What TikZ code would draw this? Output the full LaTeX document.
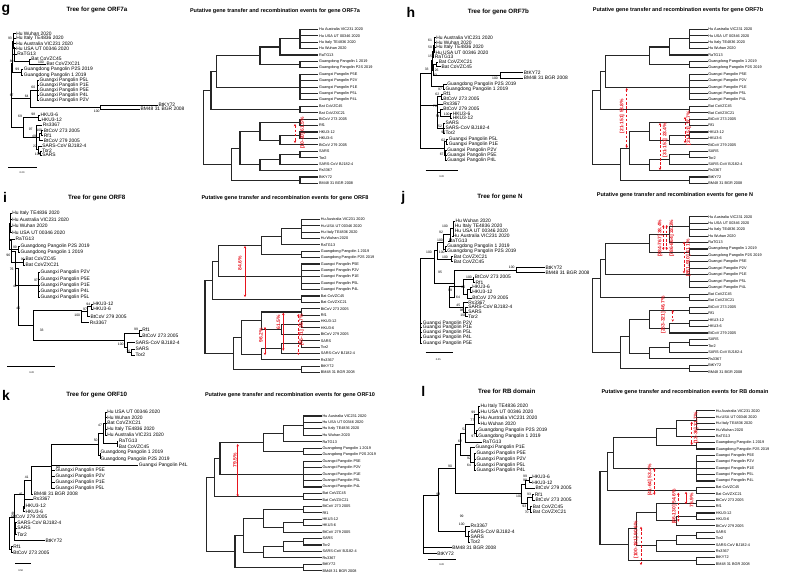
\documentclass[tikz,border=0pt]{standalone}
\usepackage{fontspec}
\setmainfont{Liberation Sans}
\usetikzlibrary{arrows.meta}
\definecolor{hgtred}{RGB}{232,20,30}
\tikzset{
    lbranch/.style={line width=0.65pt, black},
    cbranch/.style={line width=1.1pt, black!85},
    taxon/.style={anchor=west, font=\fontsize{3.8}{4}\selectfont, inner sep=0.6pt},
    ltaxon/.style={anchor=west, font=\fontsize{4.9}{5}\selectfont, inner sep=0.4pt},
    boot/.style={font=\fontsize{3.4}{4}\selectfont, inner sep=0pt},
    paneltag/.style={font=\fontsize{14}{14}\selectfont\bfseries, inner sep=0pt},
    treetitle/.style={font=\fontsize{6.2}{7}\selectfont\bfseries, inner sep=0pt},
    eventtitle/.style={font=\fontsize{5.5}{6}\selectfont\bfseries, inner sep=0pt},
    scalebar/.style={line width=0.6pt},
    scalelabel/.style={font=\fontsize{2.5}{3}\selectfont, inner sep=0pt},
    transfer/.style={hgtred, line width=0.9pt, {Stealth[length=2.4pt,width=2.6pt]}-{Stealth[length=2.4pt,width=2.6pt]}},
    recomb/.style={transfer, dash pattern=on 2.6pt off 1.6pt},
    eventlabel/.style={rotate=90, text=hgtred, font=\fontsize{5}{5}\selectfont\bfseries, inner sep=0.3pt},
}
% parent -> children, rectangular branches
\newcommand{\branchto}[3][lbranch]{\foreach \c in {#3}{\draw[#1] (#2) |- (\c);}}
% transfer event: style, name, x, y1, y2, label x, label y, text
\newcommand{\hgt}[8][transfer]{%
    \coordinate (#2a) at (#3,#4);
    \coordinate (#2b) at (#3,#5);
    \draw[#1] (#2a) -- (#2b);
    \node[eventlabel] (#2l) at (#6,#7) {#8};}
% common species cladogram: name, tip x, top y, leaf spacing
\newcommand{\eventtree}[4]{%
    \begin{scope}[shift={(#2,#3)}, y=-#4pt]
        \foreach \lbl [count=\k from 0] in {Hu Australia VIC231 2020, Hu USA UT 00346 2020,
            Hu Italy TE4836 2020, Hu Wuhan 2020, RaTG13, Guangdong Pangolin 1 2019,
            Guangdong Pangolin P2S 2019, Guangxi Pangolin P5E, Guangxi Pangolin P2V,
            Guangxi Pangolin P1E, Guangxi Pangolin P5L, Guangxi Pangolin P4L, Bat CoVZC45,
            Bat CoVZXC21, BtCoV 273 2005, Rf1, HKU3-12, HKU3-6, BtCoV 279 2005, SARS, Tor2,
            SARS-CoV BJ182-4, Rs3367, BtKY72, BM48 31 BGR 2008}
            \node[taxon] (#1\k) at (0,\k) {\lbl};
        \coordinate (#1hu) at (-18.3,1.5);
        \coordinate (#1hr) at (-38.3,2.75);
        \coordinate (#1gd) at (-18.3,5.5);
        \coordinate (#1hrg) at (-58.3,4.125);
        \coordinate (#1gx) at (-18.3,9);
        \coordinate (#1hrgx) at (-101.7,6.5625);
        \coordinate (#1zc) at (-18.3,12.5);
        \coordinate (#1up) at (-107.3,9.53);
        \coordinate (#1rf) at (-18.3,14.5);
        \coordinate (#1hk) at (-18.3,16.5);
        \coordinate (#1hks) at (-38.3,17.25);
        \coordinate (#1bat) at (-58.3,15.875);
        \coordinate (#1st) at (-18.3,19.5);
        \coordinate (#1stb) at (-38.3,20.25);
        \coordinate (#1sars) at (-58.3,21.125);
        \coordinate (#1sarb) at (-78.3,18.5);
        \coordinate (#1ky) at (-18.3,23.5);
        \coordinate (#1low) at (-86.7,21);
        \coordinate (#1root) at (-115,15.27);
        \branchto[cbranch]{#1hu}{#10,#11,#12,#13}
        \branchto[cbranch]{#1hr}{#1hu,#14}
        \branchto[cbranch]{#1gd}{#15,#16}
        \branchto[cbranch]{#1hrg}{#1hr,#1gd}
        \branchto[cbranch]{#1gx}{#17,#18,#19,#110,#111}
        \branchto[cbranch]{#1hrgx}{#1hrg,#1gx}
        \branchto[cbranch]{#1zc}{#112,#113}
        \branchto[cbranch]{#1up}{#1hrgx,#1zc}
        \branchto[cbranch]{#1rf}{#114,#115}
        \branchto[cbranch]{#1hk}{#116,#117}
        \branchto[cbranch]{#1hks}{#1hk,#118}
        \branchto[cbranch]{#1bat}{#1rf,#1hks}
        \branchto[cbranch]{#1st}{#119,#120}
        \branchto[cbranch]{#1stb}{#1st,#121}
        \branchto[cbranch]{#1sars}{#1stb,#122}
        \branchto[cbranch]{#1sarb}{#1bat,#1sars}
        \branchto[cbranch]{#1ky}{#123,#124}
        \branchto[cbranch]{#1low}{#1sarb,#1ky}
        \branchto[cbranch]{#1root}{#1up,#1low}
    \end{scope}}

\begin{document}
\begin{tikzpicture}[x=1pt, y=-1pt]
\useasboundingbox (0,0) rectangle (787,574);
\fill[white] (0,0) rectangle (787,574);

% ================= g : ORF7a =================
\node[paneltag] (gtag) at (6,10) {g};
\node[treetitle] (gt1) at (97,10) {Tree for gene ORF7a};
\node[eventtitle] (gt2) at (275,11) {Putative gene transfer and recombination events for gene ORF7a};
\foreach \x/\y/\lbl [count=\k] in {15.7/33.3/Hu Wuhan 2020, 15.7/38.3/Hu Italy TE4836 2020,
    15.7/43.7/Hu Australia VIC231 2020, 15.7/48.7/Hu USA UT 00346 2020, 16.7/54/RaTG13,
    30.7/59.3/Bat CoVZC45, 46/64.3/Bat CoVZXC21, 23.3/69.7/Guangdong Pangolin P2S 2019,
    23.3/75/Guangdong Pangolin 1 2019, 39/80/Guangxi Pangolin P5L, 39/85/Guangxi Pangolin P1E,
    39/90/Guangxi Pangolin P5E, 39/95/Guangxi Pangolin P4L, 39/100/Guangxi Pangolin P2V,
    158/105.3/BtKY72, 140/109.3/BM48 31 BGR 2008, 40/115/HKU3-6, 41/120/HKU3-12,
    42.3/125.3/Rs3367, 43.3/130.7/BtCoV 273 2005, 43.3/135.7/Rf1, 43.3/140.7/BtCoV 279 2005,
    41.7/146/SARS-CoV BJ182-4, 41.7/151/Tor2, 41.7/155/SARS}
    \node[ltaxon] (gl\k) at (\x,\y) {\lbl};
\coordinate (ghu) at (13.5,41);
\coordinate (ghr) at (12.8,47.5);
\coordinate (gzc) at (29.3,61.8);
\coordinate (gup) at (14.3,54.6);
\coordinate (ggd) at (21.7,72.3);
\coordinate (gbr) at (12.3,63.5);
\coordinate (ggx) at (37.3,90);
\coordinate (gky) at (100,107.3);
\coordinate (gpk) at (30,98.7);
\coordinate (gtop) at (11.5,81);
\coordinate (ghk) at (38.3,117.5);
\coordinate (grf) at (41.5,133.2);
\coordinate (g79) at (39.5,137);
\coordinate (gst) at (40,153);
\coordinate (gsb) at (38.5,149.5);
\coordinate (gsl) at (36.5,137.4);
\coordinate (gbot) at (23,127.5);
\coordinate (groot) at (11,104.3);
\branchto{ghu}{gl1,gl2,gl3,gl4}
\branchto{ghr}{ghu,gl5}
\branchto{gzc}{gl6,gl7}
\branchto{gup}{ghr,gzc}
\branchto{ggd}{gl8,gl9}
\branchto{gbr}{gup,ggd}
\branchto{ggx}{gl10,gl11,gl12,gl13,gl14}
\branchto{gky}{gl15,gl16}
\branchto{gpk}{ggx,gky}
\branchto{gtop}{gbr,gpk}
\branchto{ghk}{gl17,gl18}
\branchto{grf}{gl20,gl21}
\branchto{g79}{grf,gl22}
\branchto{gst}{gl24,gl25}
\branchto{gsb}{gl23,gst}
\branchto{gsl}{gl19,g79,gsb}
\branchto{gbot}{ghk,gsl}
\branchto{groot}{gtop,gbot}
\foreach \x/\y/\v [count=\k] in {10/38.3/93, 11.7/61/80, 41/62.3/100, 17.3/69.3/99,
    33.3/87.3/60, 26.7/96.7/64, 11.7/95/67, 96.7/111/100, 20/116/69, 33.3/114.3/98,
    30.7/129.3/97, 39.3/130/100, 34/136.7/49, 35/146/22, 37.7/154/100}
    \node[boot] (gb\k) at (\x,\y) {\v};
\coordinate (gs1) at (8,167);
\coordinate (gs2) at (37,167);
\draw[scalebar] (gs1) -- (gs2);
\node[scalelabel] (gsl1) at (22,173) {0.20};
\eventtree{gr}{318.3}{29.3}{6.42}
\hgt[recomb]{ge1}{295}{124}{143}{302.5}{133}{[10-20] 61.5\%}

% ================= h : ORF7b =================
\node[paneltag] (htag) at (411,12) {h};
\node[treetitle] (ht1) at (498.3,12) {Tree for gene ORF7b};
\node[eventtitle] (ht2) at (678,10) {Putative gene transfer and recombination events for gene ORF7b};
\foreach \x/\y/\lbl [count=\k] in {435.7/37.7/Hu Australia VIC231 2020, 435.7/42.7/Hu Wuhan 2020,
    435.7/47.7/Hu Italy TE4836 2020, 435/52.7/Hu USA UT 00346 2020, 434.3/57.3/RaTG13,
    438.3/62.3/Bat CoVZXC21, 441/66.7/Bat CoVZC45, 523.3/72.7/BtKY72,
    523.3/78.3/BM48 31 BGR 2008, 446.7/84/Guangdong Pangolin P2S 2019,
    445/89/Guangdong Pangolin 1 2019, 442.7/94/Rf1, 442.7/99/BtCoV 273 2005,
    442.7/104/Rs3367, 442.7/109/BtCoV 279 2005, 452.3/113.7/HKU3-6, 452.3/118.3/HKU3-12,
    445/123.3/SARS, 445/128.3/SARS-CoV BJ182-4, 445/133/Tor2, 448.3/139.3/Guangxi Pangolin P5L,
    448.3/144.3/Guangxi Pangolin P1E, 446.7/150/Guangxi Pangolin P2V,
    446.7/155/Guangxi Pangolin P5E, 446.7/160/Guangxi Pangolin P4L}
    \node[ltaxon] (hl\k) at (\x,\y) {\lbl};
\coordinate (hhu) at (434,45.2);
\coordinate (hhr) at (433,51.2);
\coordinate (hzc) at (436.5,64.5);
\coordinate (hky) at (500,75.5);
\coordinate (hbat) at (433.5,70);
\coordinate (hhz) at (432,60.6);
\coordinate (hgd) at (443,86.5);
\coordinate (hup) at (431,73.5);
\coordinate (hrf) at (441,96.5);
\coordinate (hhk) at (450,116);
\coordinate (h79) at (440,112.5);
\coordinate (hsa) at (443.5,128.2);
\coordinate (hlow) at (437.7,105);
\coordinate (hgx1) at (446.7,141.8);
\coordinate (hgx2) at (445,155);
\coordinate (hgx) at (444,148.4);
\coordinate (hroot) at (420,111);
\branchto{hhu}{hl1,hl2,hl3,hl4}
\branchto{hhr}{hhu,hl5}
\branchto{hzc}{hl6,hl7}
\branchto{hky}{hl8,hl9}
\branchto{hbat}{hzc,hky}
\branchto{hhz}{hhr,hbat}
\branchto{hgd}{hl10,hl11}
\branchto{hup}{hhz,hgd}
\branchto{hrf}{hl12,hl13}
\branchto{hhk}{hl16,hl17}
\branchto{h79}{hl15,hhk}
\branchto{hsa}{hl18,hl19,hl20}
\branchto{hlow}{hrf,hl14,h79,hsa}
\branchto{hgx1}{hl21,hl22}
\branchto{hgx2}{hl23,hl24,hl25}
\branchto{hgx}{hgx1,hgx2}
\branchto{hroot}{hup,hlow,hgx}
\foreach \x/\y/\v [count=\k] in {430/40/61, 430/47.7/50, 430/56/15, 426.7/69.3/33,
    436.7/70/26, 435/75/23, 495/78.3/100, 440/89.3/97, 437.3/94/62, 435/106.7/76,
    446.7/114.3/100, 437.7/116.7/54, 440/126/52, 443.3/132.7/90, 443.3/140/62, 441.7/154.3/67}
    \node[boot] (hb\k) at (\x,\y) {\v};
\coordinate (hs1) at (425.7,170);
\coordinate (hs2) at (457.7,170);
\draw[scalebar] (hs1) -- (hs2);
\node[scalelabel] (hsl1) at (441.7,176.7) {0.20};
\eventtree{hr}{707.5}{29.3}{6.42}
\hgt[recomb]{he1}{626.7}{88}{148}{622}{116}{[21-151] 53.8\%}
\hgt[recomb]{he2}{660}{123}{170}{665}{140}{[31-151] 23.4\%}
\hgt[recomb]{he3}{685}{117}{143}{688.7}{128}{[31-151] 37.7\%}

% ================= i : ORF8 =================
\node[paneltag] (itag) at (5,197) {i};
\node[treetitle] (it1) at (96.7,198.3) {Tree for gene ORF8};
\node[eventtitle] (it2) at (285,198.3) {Putative gene transfer and recombination events for gene ORF8};
\foreach \x/\y/\lbl [count=\k] in {11.7/213.3/Hu Italy TE4836 2020, 11.7/219.3/Hu Australia VIC231 2020,
    11.7/226/Hu Wuhan 2020, 11.7/232.7/Hu USA UT 00346 2020, 15/239.3/RaTG13,
    20/246/Guangdong Pangolin P2S 2019, 20/252.7/Guangdong Pangolin 1 2019, 25/259.3/Bat CoVZC45,
    25/265.3/Bat CoVZXC21, 40/272.7/Guangxi Pangolin P2V, 40/279.3/Guangxi Pangolin P5E,
    40/285.7/Guangxi Pangolin P1E, 40/291.7/Guangxi Pangolin P4L, 40/297.7/Guangxi Pangolin P5L,
    92.7/304/HKU3-12, 92.7/309.3/HKU3-6, 90/316.7/BtCoV 279 2005, 89.3/322.7/Rs3367,
    141.7/330/Rf1, 141.7/336/BtCoV 273 2005, 135/342.7/SARS-CoV BJ182-4, 135/349.3/SARS,
    135/355/Tor2}
    \node[ltaxon] (il\k) at (\x,\y) {\lbl};
\coordinate (ihu) at (10.3,223);
\coordinate (ihr) at (9.8,231.2);
\coordinate (igd) at (18.3,249.3);
\coordinate (ia) at (9,240.2);
\coordinate (izc) at (23.3,262.3);
\coordinate (ib) at (11,251.3);
\coordinate (igx) at (38.3,285.2);
\coordinate (ic) at (15,268.2);
\coordinate (ihk) at (91,306.7);
\coordinate (ih79) at (87,311.7);
\coordinate (ihks) at (81.7,310);
\coordinate (irf) at (139,333);
\coordinate (ist) at (131,352.2);
\coordinate (isb) at (127.7,347.4);
\coordinate (isars) at (124,340.7);
\coordinate (id) at (33.3,325);
\coordinate (iroot) at (18.3,300);
\branchto{ihu}{il1,il2,il3,il4}
\branchto{ihr}{ihu,il5}
\branchto{igd}{il6,il7}
\branchto{ia}{ihr,igd}
\branchto{izc}{il8,il9}
\branchto{ib}{ia,izc}
\branchto{igx}{il10,il11,il12,il13,il14}
\branchto{ic}{ib,igx}
\branchto{ihk}{il15,il16}
\branchto{ih79}{ihk,il17}
\branchto{ihks}{ih79,il18}
\branchto{irf}{il19,il20}
\branchto{ist}{il22,il23}
\branchto{isb}{il21,ist}
\branchto{isars}{irf,isb}
\branchto{id}{ihks,isars}
\branchto{iroot}{ic,id}
\foreach \x/\y/\v [count=\k] in {15/247.3/99, 8.3/255/96, 22.7/259.3/99, 11.7/269.3/76,
    36/280.7/97, 15/286.7/42, 18.3/308.3/40, 77.3/315/100, 88.3/304/94, 85/309.3/97,
    41.7/330.7/33, 136/329.3/99, 120.7/344/100, 128.3/351/76}
    \node[boot] (ib\k) at (\x,\y) {\v};
\coordinate (is1) at (7.3,366);
\coordinate (is2) at (55,366);
\draw[scalebar] (is1) -- (is2);
\node[scalelabel] (isl1) at (31.7,372.7) {0.20};
\eventtree{ir}{320}{219.3}{6.39}
\hgt{ie1}{245}{246}{297}{240}{263}{84.6\%}
\hgt{ie2}{283.3}{312.7}{350.7}{278.3}{322}{61.5\%}
\hgt{ie3}{265}{327}{355}{261}{335}{96.2\%}
\hgt[recomb]{ie4}{298.3}{314}{355}{301.7}{330}{[45-71] 38.7\%}

% ================= j : N =================
\node[paneltag] (jtag) at (403.3,198.3) {j};
\node[treetitle] (jt1) at (500,196.7) {Tree for gene N};
\node[eventtitle] (jt2) at (675,195) {Putative gene transfer and recombination events for gene N};
\foreach \x/\y/\lbl [count=\k] in {455/221/Hu Wuhan 2020, 454.3/226/Hu Italy TE4836 2020,
    454.3/231/Hu USA UT 00346 2020, 452.3/236/Hu Australia VIC231 2020, 448.3/241/RaTG13,
    446.7/246.7/Guangdong Pangolin 1 2019, 446.7/251.7/Guangdong Pangolin P2S 2019,
    453.3/256.7/Bat CoVZXC21, 453.3/261.7/Bat CoVZC45, 545/267.7/BtKY72,
    545/272.7/BM48 31 BGR 2008, 474.3/277.3/BtCoV 273 2005, 475/282.3/Rf1,
    471.7/287.3/HKU3-6, 471.7/292.3/HKU3-12, 471.7/298/BtCoV 279 2005, 467.7/302.7/Rs3367,
    467.7/307.3/SARS-CoV BJ182-4, 467.7/312.3/SARS, 467.7/316.7/Tor2,
    422.3/323.3/Guangxi Pangolin P2V, 422.3/327.7/Guangxi Pangolin P1E,
    422.3/332.7/Guangxi Pangolin P5L, 422.3/337.7/Guangxi Pangolin P4L,
    422.3/343.3/Guangxi Pangolin P5E}
    \node[ltaxon] (jl\k) at (\x,\y) {\lbl};
\coordinate (jhu) at (453,228.5);
\coordinate (jhr) at (450,234.7);
\coordinate (jgd) at (445,249.2);
\coordinate (ja) at (443,242);
\coordinate (jzc) at (451,259.2);
\coordinate (jb) at (437,250.6);
\coordinate (jky) at (516.7,270.2);
\coordinate (jrf) at (473,279.8);
\coordinate (jhk) at (470,289.8);
\coordinate (jh79) at (467,293.9);
\coordinate (jbat) at (463.5,286.8);
\coordinate (jsars) at (465.5,312.2);
\coordinate (jsr) at (463,307.3);
\coordinate (jsarb) at (449,297);
\coordinate (jlow) at (454.3,283.6);
\coordinate (jup) at (434.3,258);
\coordinate (jroot) at (420,300);
\branchto{jhu}{jl1,jl2,jl3,jl4}
\branchto{jhr}{jhu,jl5}
\branchto{jgd}{jl6,jl7}
\branchto{ja}{jhr,jgd}
\branchto{jzc}{jl8,jl9}
\branchto{jb}{ja,jzc}
\branchto{jky}{jl10,jl11}
\branchto{jrf}{jl12,jl13}
\branchto{jhk}{jl14,jl15}
\branchto{jh79}{jhk,jl16}
\branchto{jbat}{jrf,jh79}
\branchto{jsars}{jl18,jl19,jl20}
\branchto{jsr}{jl17,jsars}
\branchto{jsarb}{jbat,jsr}
\branchto{jlow}{jky,jsarb}
\branchto{jup}{jb,jlow}
\branchto{jroot}{jup,jl21,jl22,jl23,jl24,jl25}
\foreach \x/\y/\v [count=\k] in {445/226/100, 441/232.7/92, 440/240/100, 429/252.7/100,
    441.7/252.7/100, 445/257.3/100, 440/272.7/95, 511.7/267.7/100, 450/290/99,
    469/277.7/100, 463.3/287.3/80, 458/297.7/64, 458.3/305/45, 461.7/310.7/98, 463.3/315.7/100}
    \node[boot] (jb\k) at (\x,\y) {\v};
\coordinate (js1) at (425.7,352.7);
\coordinate (js2) at (453.3,352.7);
\draw[scalebar] (js1) -- (js2);
\node[scalelabel] (jsl1) at (438.3,359.3) {0.05};
\eventtree{jr}{707.5}{216.7}{6.46}
\hgt[recomb]{je1}{663.3}{225}{250}{660}{238.3}{[384-767] 38.4\%}
\hgt[recomb]{je2}{666.7}{225}{250}{671.7}{238.3}{[786-864] 33.3\%}
\hgt[recomb]{je3}{684}{241.7}{273.3}{688.3}{258}{[861-910] 41.1\%}
\hgt[recomb]{je4}{672.7}{310}{321.7}{663.3}{315}{[253-321] 46.7\%}

% ================= k : ORF10 =================
\node[paneltag] (ktag) at (6,395) {k};
\node[treetitle] (kt1) at (96.7,395) {Tree for gene ORF10};
\node[eventtitle] (kt2) at (290,395) {Putative gene transfer and recombination events for gene ORF10};
\foreach \x/\y/\lbl [count=\k] in {106.7/412.3/Hu USA UT 00346 2020, 106.7/417.7/Hu Wuhan 2020,
    106.7/423.3/Bat CoVZXC21, 106.7/429/Hu Italy TE4836 2020, 106.7/435/Hu Australia VIC231 2020,
    118.3/441/RaTG13, 118.3/446.7/Bat CoVZC45, 100/452.7/Guangdong Pangolin 1 2019,
    100/459/Guangdong Pangolin P2S 2019, 138.3/465/Guangxi Pangolin P4L,
    55/470.7/Guangxi Pangolin P5E, 55/476.7/Guangxi Pangolin P2V, 55/482.7/Guangxi Pangolin P1E,
    55/488.3/Guangxi Pangolin P5L, 33.3/494/BM48 31 BGR 2008, 32.7/499.3/Rs3367,
    25/506/HKU3-12, 25/511.7/HKU3-6, 10.7/517.3/BtCoV 279 2005, 16.7/522.7/SARS-CoV BJ182-4,
    16.7/528.3/SARS, 16.7/534.7/Tor2, 45/540.7/BtKY72, 12.7/546.7/Rf1, 12.7/552.7/BtCoV 273 2005}
    \node[ltaxon] (kl\k) at (\x,\y) {\lbl};
\coordinate (khu) at (105.5,423.7);
\coordinate (krz) at (117,443.8);
\coordinate (khrz) at (103.5,433.8);
\coordinate (kgd) at (100,455.8);
\coordinate (kh) at (98.3,444.8);
\coordinate (ka) at (51.7,466.5);
\coordinate (kb) at (31.7,480.3);
\coordinate (khk) at (23.5,508.8);
\coordinate (kc) at (24,494.5);
\coordinate (ks) at (15.7,528.6);
\coordinate (kd) at (14,517.6);
\coordinate (krf) at (11,549.7);
\coordinate (kroot) at (9.3,533.6);
\branchto{khu}{kl1,kl2,kl3,kl4,kl5}
\branchto{krz}{kl6,kl7}
\branchto{khrz}{khu,krz}
\branchto{kgd}{kl8,kl9}
\branchto{kh}{khrz,kgd}
\branchto{ka}{kh,kl10,kl11,kl12,kl13,kl14}
\branchto{kb}{ka,kl15}
\branchto{khk}{kl17,kl18}
\branchto{kc}{kb,kl16,khk}
\branchto{ks}{kl20,kl21,kl22}
\branchto{kd}{kc,kl19,ks,kl23}
\branchto{krf}{kl24,kl25}
\branchto{kroot}{kd,krf}
\foreach \x/\y/\v [count=\k] in {100/425.7/47, 95.7/440.7/50, 58.3/467.3/60, 26.7/477.3/41,
    20.7/494/45, 13.3/513.3/46}
    \node[boot] (kb\k) at (\x,\y) {\v};
\coordinate (ks1) at (15,563.3);
\coordinate (ks2) at (31,563.3);
\draw[scalebar] (ks1) -- (ks2);
\node[scalelabel] (ksl1) at (20.7,570.7) {0.50};
\eventtree{kr}{321.7}{416}{6.45}
\hgt{ke1}{237.7}{444}{496.7}{235}{460}{79.5\%}

% ================= l : RB domain =================
\node[paneltag] (ltag) at (423.3,391.7) {l};
\node[treetitle] (lt1) at (506.7,391.7) {Tree for RB domain};
\node[eventtitle] (lt2) at (685,391.7) {Putative gene transfer and recombination events for RB domain};
\foreach \x/\y/\lbl [count=\k] in {480/406/Hu Italy TE4836 2020, 480/412/Hu USA UT 00346 2020,
    480/417.7/Hu Australia VIC231 2020, 480/423.3/Hu Wuhan 2020,
    477.7/430/Guangdong Pangolin P2S 2019, 477.7/436/Guangdong Pangolin 1 2019, 482.3/442/RaTG13,
    475/447.7/Guangxi Pangolin P1E, 476/453.3/Guangxi Pangolin P5E, 476/459.3/Guangxi Pangolin P2V,
    476/465/Guangxi Pangolin P5L, 476/470.7/Guangxi Pangolin P4L, 531.7/477.3/HKU3-6,
    531.7/482.7/HKU3-12, 535/488.3/BtCoV 279 2005, 534.3/494.3/Rf1, 535/500/BtCoV 273 2005,
    532.3/506.7/Bat CoVZC45, 532.3/512/Bat CoVZXC21, 470/526/Rs3367,
    470/531.7/SARS-CoV BJ182-4, 470/536.7/SARS, 470/542/Tor2, 451.7/547.7/BM48 31 BGR 2008,
    436.7/553.3/BtKY72}
    \node[ltaxon] (ll\k) at (\x,\y) {\lbl};
\coordinate (lhu) at (478.5,414.7);
\coordinate (lgd) at (476.5,433);
\coordinate (lhg) at (474,423.9);
\coordinate (lhgr) at (465,432.9);
\coordinate (lgx2) at (474.5,462);
\coordinate (lgx) at (470,454.9);
\coordinate (la) at (460,443.9);
\coordinate (lhk) at (529,480);
\coordinate (lh79) at (525,484.2);
\coordinate (lrf) at (532,497.2);
\coordinate (lzc) at (530,509.4);
\coordinate (lrz) at (527,503.3);
\coordinate (lbat) at (521,493.7);
\coordinate (lb) at (455,468.8);
\coordinate (lsars) at (468,536.8);
\coordinate (lsr) at (465,531.4);
\coordinate (lc) at (438.3,495);
\coordinate (lroot) at (423.3,524);
\branchto{lhu}{ll1,ll2,ll3,ll4}
\branchto{lgd}{ll5,ll6}
\branchto{lhg}{lhu,lgd}
\branchto{lhgr}{lhg,ll7}
\branchto{lgx2}{ll9,ll10,ll11,ll12}
\branchto{lgx}{ll8,lgx2}
\branchto{la}{lhgr,lgx}
\branchto{lhk}{ll13,ll14}
\branchto{lh79}{lhk,ll15}
\branchto{lrf}{ll16,ll17}
\branchto{lzc}{ll18,ll19}
\branchto{lrz}{lrf,lzc}
\branchto{lbat}{lh79,lrz}
\branchto{lb}{la,lbat}
\branchto{lsars}{ll21,ll22,ll23}
\branchto{lsr}{ll20,lsars}
\branchto{lc}{lb,lsr}
\branchto{lroot}{lc,ll24,ll25}
\foreach \x/\y/\v [count=\k] in {473.3/412.7/99, 472.3/420/77, 473.3/436/97, 464.3/429.3/52,
    460/441/62, 469/458.3/92, 469/465/64, 450/466/90, 438.3/494/98, 525/476.7/99,
    525/480.7/99, 519/496/100, 529/494/93, 524.3/506/93, 526.7/512.7/70, 461.7/516.7/99,
    461.7/524.3/100}
    \node[boot] (lb\k) at (\x,\y) {\v};
\coordinate (ls1) at (428.3,559);
\coordinate (ls2) at (455.7,559);
\draw[scalebar] (ls1) -- (ls2);
\node[scalelabel] (lsl1) at (441.7,565) {0.20};
\eventtree{lr}{715}{410.7}{6.39}
\hgt[recomb]{le1}{691.7}{421.7}{445}{696}{428}{[13-36] 31.7\%}
\hgt[recomb]{le2}{654.3}{468}{495}{650}{480}{[41-64] 53.4\%}
\hgt{le3}{686}{491.7}{504}{691.7}{500}{76.9\%}
\hgt[recomb]{le4}{678.3}{492.7}{521.7}{674.3}{506.7}{[86-130] 54.6\%}
\hgt[recomb]{le5}{641}{526.7}{565}{636}{540}{[100-181] 90.6\%}
\end{tikzpicture}
\end{document}
